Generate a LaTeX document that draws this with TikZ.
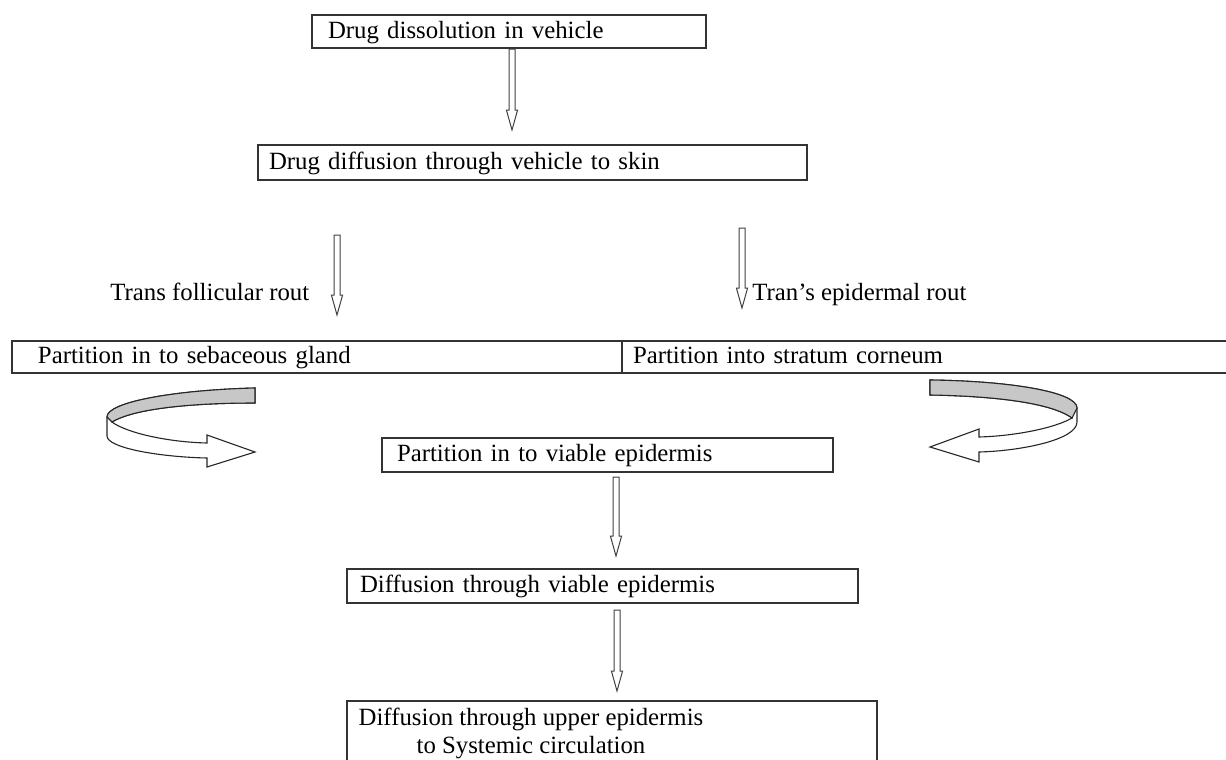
\documentclass[tikz,border=0pt]{standalone}
\usepackage{fontspec}
\setmainfont{Liberation Serif}
\usetikzlibrary{calc}
\tikzset{
  fbox/.style={draw=black!80, line width=0.75pt, rectangle, anchor=north west, align=left,
    inner ysep=0pt, outer sep=0pt, text height=9.6pt, text depth=2.7pt,
    font=\fontsize{12.4}{14}\selectfont},
  lbl/.style={anchor=base west, inner sep=0pt, font=\fontsize{12.4}{14}\selectfont},
  harrow/.style={draw=black!75, line width=0.5pt, fill=white, line join=miter},
  curl/.style={draw=black!85, line width=0.55pt, fill=white, line join=miter},
  curlback/.style={draw=black!85, line width=0.55pt, fill=black!22}
}
\newcommand\hdown[2]{%
  \draw[harrow] let \p1=(#1), \p2=(#2) in
    (\x1-1.5pt,\y1) -- (\x1+1.5pt,\y1) -- (\x1+1.5pt,\y2+10pt) -- (\x1+2.8pt,\y2+10pt)
    -- (\x1,\y2) -- (\x1-2.8pt,\y2+10pt) -- (\x1-1.5pt,\y2+10pt) -- cycle;}
\begin{document}
\begin{tikzpicture}[x=0.5pt, y=-0.5pt]
\useasboundingbox (0,0) rectangle (1226,760);

% boxes
\node[fbox, minimum width=197pt, minimum height=16.5pt, inner xsep=8pt, text width=181pt] (b1) at (312,15) {Drug dissolution in vehicle};
\node[fbox, minimum width=274.5pt, minimum height=17.5pt, inner xsep=5.5pt, text width=263.5pt] (b2) at (258,145) {Drug diffusion through vehicle to skin};
\node[fbox, line width=1pt, minimum width=305pt, minimum height=16pt, inner xsep=13pt, text width=279pt] (bl) at (12,341) {Partition in to sebaceous gland};
\node[fbox, line width=1pt, minimum width=305pt, minimum height=16pt, inner xsep=5.5pt, text width=294pt] (br) at (622,341) {Partition into stratum corneum};
\node[fbox, minimum width=225.5pt, minimum height=17pt, inner xsep=7.5pt, text width=210.5pt] (bv) at (382,438) {Partition in to viable epidermis};
\node[fbox, minimum width=255.5pt, minimum height=17pt, inner xsep=6.5pt, text width=242.5pt] (bd) at (347,569) {Diffusion through viable epidermis};
\node[draw=black!80, line width=0.75pt, rectangle, anchor=north west, minimum width=265pt, minimum height=45pt, outer sep=0pt] (bu) at (347,701) {};
\node[anchor=north, align=center, inner sep=0pt, font=\fontsize{12.4}{14}\selectfont] (bt) at (531,708) {Diffusion through upper epidermis\\to Systemic circulation};

% route labels
\node[lbl] (lt) at (110,300) {Trans follicular rout};
\node[lbl] (rt) at (752,300) {Tran’s epidermal rout};

% hollow down arrows
\coordinate (a1s) at (512,49);  \coordinate (a1e) at (512,130);
\coordinate (a2s) at (337,235); \coordinate (a2e) at (337,315);
\coordinate (a3s) at (742,228); \coordinate (a3e) at (742,308);
\coordinate (a4s) at (616,477); \coordinate (a4e) at (616,556);
\coordinate (a5s) at (617,610); \coordinate (a5e) at (617,691);
\hdown{a1s}{a1e}
\hdown{a2s}{a2e}
\hdown{a3s}{a3e}
\hdown{a4s}{a4e}
\hdown{a5s}{a5e}

% left curved arrow
\draw[curl] (255,388) .. controls (175,390) and (107,402) .. (107,417) -- (107,436)
  .. controls (107,448) and (160,457) .. (207,458) -- (207,467) -- (255,452) -- (207,435) -- (207,443)
  .. controls (165,442) and (125,432) .. (112,422)
  .. controls (135,408) and (195,403) .. (255,403) -- cycle;
\draw[curlback] (255,388) .. controls (175,390) and (107,402) .. (107,417) -- (112,422)
  .. controls (135,408) and (195,403) .. (255,403) -- cycle;

% right curved arrow
\draw[curl] (930,380) .. controls (1010,381) and (1077,392) .. (1077,408) -- (1077,422)
  .. controls (1077,440) and (1020,451) .. (979,452) -- (979,462) -- (930,447) -- (979,429) -- (979,437)
  .. controls (1015,436) and (1055,428) .. (1072,418)
  .. controls (1050,402) and (990,396) .. (930,395) -- cycle;
\draw[curlback] (930,380) .. controls (1010,381) and (1077,392) .. (1077,408) -- (1072,418)
  .. controls (1050,402) and (990,396) .. (930,395) -- cycle;
\end{tikzpicture}
\end{document}
